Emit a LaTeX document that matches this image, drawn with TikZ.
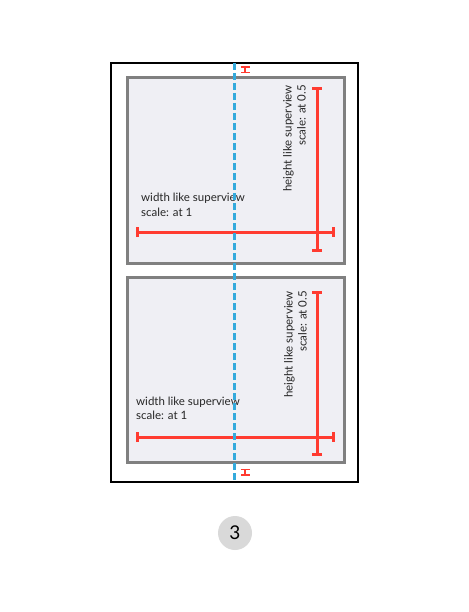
\documentclass[tikz,border=0pt]{standalone}
\usepackage{fontspec}
\setmainfont{Lato}
\usetikzlibrary{arrows.meta}
\definecolor{dimred}{HTML}{FF3B30}
\definecolor{guideblue}{HTML}{34AADC}
\definecolor{panelfill}{HTML}{EFEFF4}
\definecolor{panelgray}{HTML}{808080}
\begin{document}
\begin{tikzpicture}[x=1pt,y=-1pt,
  panel/.style={draw=panelgray,fill=panelfill,line width=3pt},
  dimline/.style={draw=dimred,line width=3pt,{Bar[width=10pt]}-{Bar[width=10pt]}},
  tinydim/.style={draw=dimred,line width=1.7pt,{Bar[width=9pt]}-{Bar[width=9pt]}},
  lbl/.style={font=\fontsize{11.5}{14}\selectfont,text=black!85,align=left,inner sep=0pt},
  rlbl/.style={lbl,align=right,rotate=90,anchor=north east}]
 \useasboundingbox (0,0) rectangle (468,612);
 \draw[line width=2pt] (111,63) rectangle (358,482);
 \begin{scope}
  \draw[panel] (127,78) rectangle (344,263);
  \node[lbl,anchor=base west] (wtop) at (141,216) {width like superview\\scale: at 1};
  \node[rlbl] (htop) at (283,85) {height like superview\\scale: at 0.5};
  \draw[dimline] (136,232) -- (335,232);
  \draw[dimline] (317,87) -- (317,252);
 \end{scope}
 \begin{scope}
  \draw[panel] (127,277) rectangle (344,462);
  \node[lbl,anchor=base west] (wbot) at (136,419) {width like superview\\scale: at 1};
  \node[rlbl] (hbot) at (284,291) {height like superview\\scale: at 0.5};
  \draw[dimline] (136,437) -- (335,437);
  \draw[dimline] (317,291) -- (317,456);
 \end{scope}
 \draw[tinydim] (245,66.5) -- (245,73.5);
 \draw[tinydim] (245,468.5) -- (245,475.5);
 \draw[guideblue,line width=3pt,dash pattern=on 7pt off 3pt] (234,63) -- (234,482);
 \node[circle,fill=black!15,minimum size=34pt,inner sep=0pt,
   font=\fontsize{19}{19}\selectfont] (stepnum) at (235,533) {3};
\end{tikzpicture}
\end{document}
